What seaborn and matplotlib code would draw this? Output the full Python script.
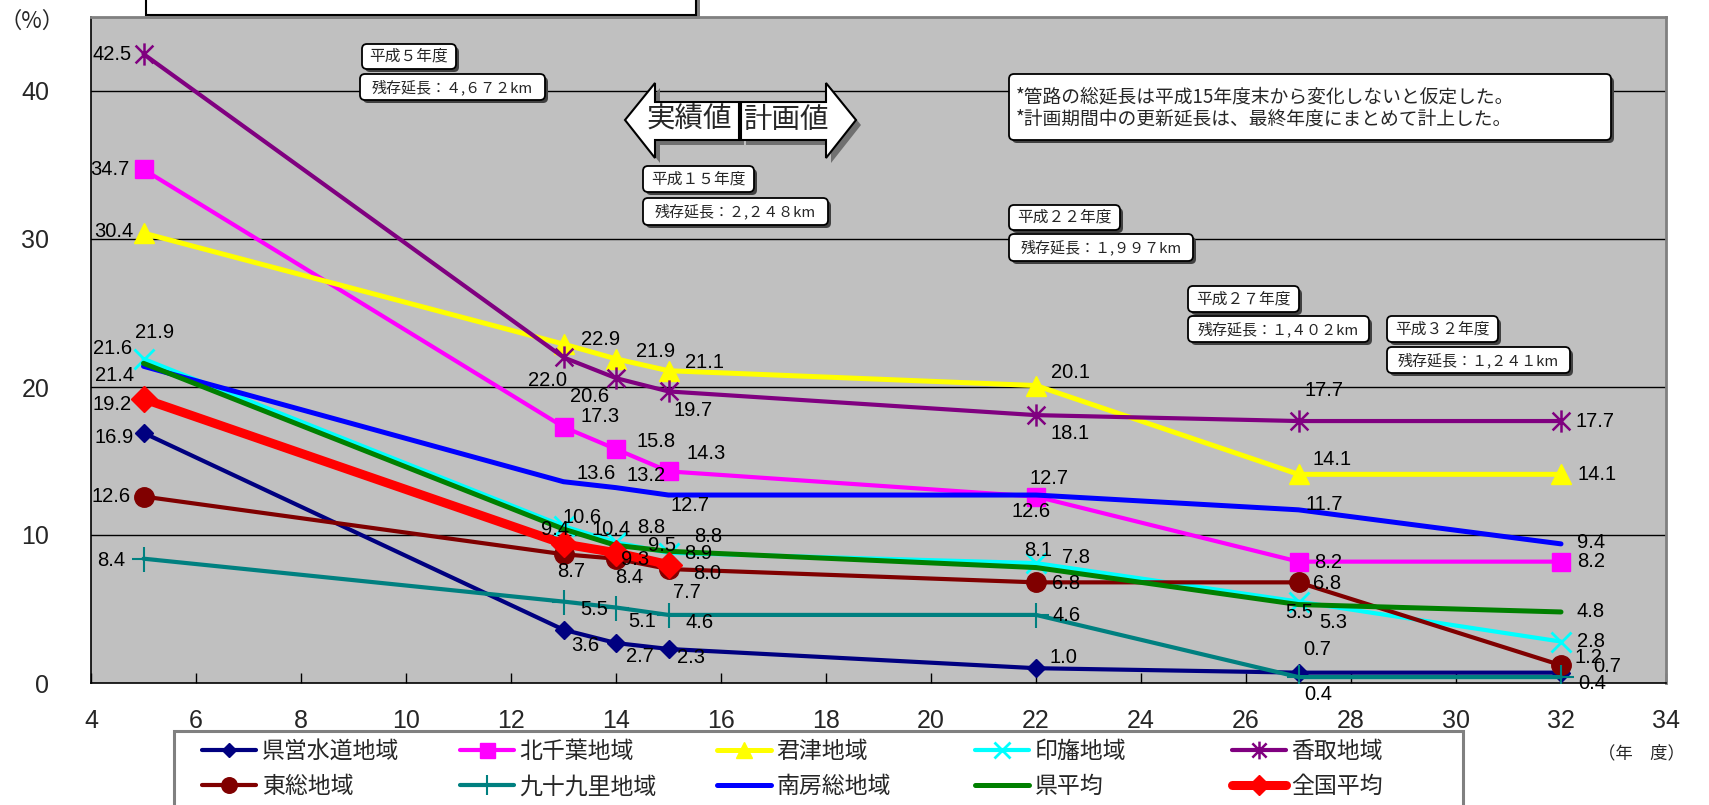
import matplotlib
matplotlib.use("Agg")
import matplotlib.pyplot as plt
import seaborn as sns
import pandas as pd
from matplotlib.patches import FancyBboxPatch, Rectangle, Polygon
from matplotlib.path import Path
from matplotlib.lines import Line2D
from matplotlib.transforms import Affine2D
from matplotlib import font_manager

# ---- data -------------------------------------------------------------
years = [5, 13, 14, 15, 22, 27, 32]
years_national = [5, 13, 14, 15]

kenei = [16.9, 3.6, 2.7, 2.3, 1.0, 0.7, 0.7]
kitachiba = [34.7, 17.3, 15.8, 14.3, 12.6, 8.2, 8.2]
kimitsu = [30.4, 22.9, 21.9, 21.1, 20.1, 14.1, 14.1]
inba = [21.9, 10.6, 9.5, 8.8, 8.1, 5.5, 2.8]
katori = [42.5, 22.0, 20.6, 19.7, 18.1, 17.7, 17.7]
toso = [12.6, 8.7, 8.4, 7.7, 6.8, 6.8, 1.2]
kujukuri = [8.4, 5.5, 5.1, 4.6, 4.6, 0.4, 0.4]
minamiboso = [21.4, 13.6, 13.2, 12.7, 12.7, 11.7, 9.4]
ken_avg = [21.6, 10.4, 9.3, 8.9, 7.8, 5.3, 4.8]
national_avg = [19.2, 9.4, 8.8, 8.0]

series_names = ["県営水道地域", "北千葉地域", "君津地域", "印旛地域", "香取地域",
                "東総地域", "九十九里地域", "南房総地域", "県平均", "全国平均"]

x_ticks = list(range(4, 35, 2))
y_ticks = [0, 10, 20, 30, 40]

survey_years = ["平成５年度", "平成１５年度", "平成２２年度", "平成２７年度", "平成３２年度"]
remaining_km = ["残存延長：４,６７２km", "残存延長：２,２４８km", "残存延長：１,９９７km",
                "残存延長：１,４０２km", "残存延長：１,２４１km"]
notes = ["*管路の総延長は平成15年度末から変化しないと仮定した。",
         "*計画期間中の更新延長は、最終年度にまとめて計上した。"]
arrow_words = ["実績値", "計画値"]
y_unit = "（%）"
x_unit = "（年　度）"

# ---- fonts --------------------------------------------------------------
sns.set_theme(style="white")
available = {f.name for f in font_manager.fontManager.ttflist}
num_font = "Liberation Sans" if "Liberation Sans" in available else "DejaVu Sans"
jp_font = ["Noto Sans CJK JP", "DejaVu Sans"]
plt.rcParams["font.family"] = jp_font

# ---- styles -------------------------------------------------------------
asterisk = Path([(0, -1), (0, 1), (-0.8, -0.8), (0.8, 0.8), (-0.8, 0.8), (0.8, -0.8)],
                [Path.MOVETO, Path.LINETO, Path.MOVETO, Path.LINETO, Path.MOVETO, Path.LINETO])

styles = [
    dict(color="#000080", marker="D", ms=8.8, lw=3.0, mew=1),
    dict(color="#FF00FF", marker="s", ms=13.5, lw=3.0, mew=1),
    dict(color="#FFFF00", marker="^", ms=14, lw=3.6, mew=1),
    dict(color="#00FFFF", marker="x", ms=14, lw=3.0, mew=2),
    dict(color="#800080", marker=asterisk, ms=16, lw=3.0, mew=1.8),
    dict(color="#800000", marker="o", ms=14, lw=3.0, mew=1),
    dict(color="#008080", marker="+", ms=18, lw=3.0, mew=1.5),
    dict(color="#0000FF", marker=None, ms=0, lw=3.6, mew=0),
    dict(color="#008000", marker=None, ms=0, lw=3.6, mew=0),
    dict(color="#FF0000", marker="D", ms=13, lw=6.5, mew=1),
]

series_values = [kenei, kitachiba, kimitsu, inba, katori, toso, kujukuri,
                 minamiboso, ken_avg, national_avg]
series_years = [years] * 9 + [years_national]

# label offsets from each point, in pixels (right, down)
label_offsets = [
    [(-29, 5), (22, 16), (24, 13), (23, 9), (27, -11), (19, -23), (46, -6)],
    [(-34, 0), (37, -10), (40, -8), (38, -18), (-5, 15), (30, 1), (30, 0)],
    [(-30, -2), (37, -5), (40, -7), (36, -8), (35, -13), (34, -15), (36, 0)],
    [(11, -26), (19, -9), (46, 3), (40, -16), (2, -13), (1, 11), (30, 0)],
    [(-31, 1), (-16, 23), (-26, 18), (25, 19), (34, 18), (25, -31), (34, 0)],
    [(-32, 0), (8, 17), (13, 19), (18, 23), (30, 1), (29, 1), (27, -8)],
    [(-32, 2), (31, 8), (26, 14), (31, 8), (31, 1), (20, 17), (31, 6)],
    [(-29, 9), (33, -8), (30, -12), (22, 10), (13, -17), (26, -5), (30, -1)],
    [(-31, -15), (48, 0), (19, 14), (30, 2), (40, -10), (35, 18), (30, 0)],
    [(-31, 6), (-8, -14), (35, -25), (39, 9)],
]

# ---- figure -------------------------------------------------------------
W, H = 1709, 805
fig = plt.figure(figsize=(W / 100, H / 100), dpi=100)
fig.patch.set_facecolor("white")
px = Affine2D().scale(1, -1).translate(0, H)  # pixel coords, y downward

L, R, T, B = 91, 1666, 17, 683
ax = fig.add_axes([L / W, 1 - B / H, (R - L) / W, (B - T) / H])
ax.set_facecolor("#C0C0C0")

for i, (name, yrs, vals, st) in enumerate(zip(series_names, series_years, series_values, styles)):
    df = pd.DataFrame({"年度": yrs, "率": vals})
    kw = dict(color=st["color"], lw=st["lw"], zorder=3 + i)
    if st["marker"] is not None:
        kw.update(marker=st["marker"], markersize=st["ms"], markeredgewidth=st["mew"],
                  markeredgecolor=st["color"], markerfacecolor=st["color"])
    sns.lineplot(data=df, x="年度", y="率", ax=ax, legend=False, **kw)
    for x, v, (dx, dy) in zip(yrs, vals, label_offsets[i]):
        ax.annotate(f"{v:.1f}", (x, v), xytext=(dx * 0.72, -dy * 0.72),
                    textcoords="offset points", ha="center", va="center",
                    fontsize=14.5, family=num_font, color="black", zorder=20)

ax.set_xlim(4, 34)
ax.set_ylim(0, 45)
ax.set_xticks(x_ticks)
ax.set_yticks(y_ticks)
ax.set_xlabel("")
ax.set_ylabel("")
ax.grid(False)
for yv in y_ticks[1:]:
    ax.axhline(yv, color="black", lw=1.0, zorder=1)
ax.tick_params(axis="x", direction="in", length=7, width=1, color="black", pad=19,
               labelsize=18, bottom=True)
ax.tick_params(axis="y", length=0, pad=30, labelsize=18, left=True)
for lab in ax.get_xticklabels() + ax.get_yticklabels():
    lab.set_family(num_font)
for side in ["left", "bottom"]:
    ax.spines[side].set_color("black")
    ax.spines[side].set_linewidth(1.2)
for side in ["top", "right"]:
    ax.spines[side].set_color("#808080")
    ax.spines[side].set_linewidth(2)

# ---- axis unit labels ----------------------------------------------------
fig.text(32, 21, y_unit, transform=px, ha="center", va="center", fontsize=16, family=jp_font)
fig.text(1641, 753, x_unit, transform=px, ha="center", va="center", fontsize=12.5, family=jp_font)

# ---- white title box cut at the top edge ----------------------------------
fig.add_artist(Rectangle((150, -20), 550, 39, transform=px, facecolor="#808080", edgecolor="none"))
fig.add_artist(Rectangle((146, -20), 550, 35, transform=px, facecolor="white",
                         edgecolor="black", lw=1.5))


def callout(x0, y0, x1, y1, text=None, size=11):
    fig.add_artist(FancyBboxPatch((x0 + 3, y0 + 3), x1 - x0, y1 - y0, transform=px,
                                  boxstyle="round,pad=0,rounding_size=5",
                                  facecolor="#404040", edgecolor="none"))
    fig.add_artist(FancyBboxPatch((x0, y0), x1 - x0, y1 - y0, transform=px,
                                  boxstyle="round,pad=0,rounding_size=5",
                                  facecolor="white", edgecolor="black", lw=1.3))
    if text is not None:
        fig.text((x0 + x1) / 2, (y0 + y1) / 2, text, transform=px, ha="center",
                 va="center", fontsize=size, family=jp_font)


# survey-year callouts: (year box, remaining-length box)
callout_boxes = [
    ((362, 44, 456, 69), (360, 74, 545, 100)),
    ((643, 166, 754, 192), (643, 198, 828, 225)),
    ((1009, 205, 1120, 230), (1009, 234, 1193, 261)),
    ((1188, 286, 1299, 312), (1188, 316, 1369, 342)),
    ((1387, 316, 1498, 342), (1387, 347, 1570, 373)),
]
for (yb, rb), ylab, rlab in zip(callout_boxes, survey_years, remaining_km):
    callout(*yb, ylab, 11.3)
    callout(*rb, rlab, 10.8)

# notes box
callout(1009, 74, 1611, 140)
for k, line in enumerate(notes):
    fig.text(1016, 97 + 22 * k, line, transform=px, ha="left", va="center",
             fontsize=13.5, family=jp_font)

# ---- double arrow: actual / planned -------------------------------------
left_arrow = [(625, 120), (655, 83), (655, 102), (739, 102), (739, 140), (655, 140), (655, 158)]
right_arrow = [(741, 102), (826, 102), (826, 83), (856, 120), (826, 158), (826, 140), (741, 140)]
for poly in (left_arrow, right_arrow):
    fig.add_artist(Polygon([(x + 5, y + 5) for x, y in poly], closed=True, transform=px,
                           facecolor="#707070", edgecolor="none"))
for poly in (left_arrow, right_arrow):
    fig.add_artist(Polygon(poly, closed=True, transform=px, facecolor="white",
                           edgecolor="black", lw=1.5))
fig.text(689, 120, arrow_words[0], transform=px, ha="center", va="center", fontsize=20.5, family=jp_font)
fig.text(787, 120, arrow_words[1], transform=px, ha="center", va="center", fontsize=20.5, family=jp_font)

# ---- legend ---------------------------------------------------------------
fig.add_artist(Rectangle((174, 731), 1289, 120, transform=px, facecolor="white",
                         edgecolor="#808080", lw=2.2))
handles = []
for st in styles:
    kw = dict(color=st["color"], lw=st["lw"])
    if st["marker"] is not None:
        kw.update(marker=st["marker"], markersize=st["ms"] * 0.8, markeredgewidth=st["mew"],
                  markeredgecolor=st["color"], markerfacecolor=st["color"])
    handles.append(Line2D([], [], **kw))

col_x = [202, 460, 717, 975, 1232]
for c, x0 in enumerate(col_x):
    idx = [c, c + 5]
    fig.legend([handles[j] for j in idx], [series_names[j] for j in idx],
               loc="center left", bbox_to_anchor=(x0 / W, 1 - 769 / H),
               frameon=False, handlelength=2.35, handletextpad=0.25,
               borderpad=0, borderaxespad=0, labelspacing=0.55,
               prop={"family": jp_font, "size": 16.5})

fig.savefig("out.png", dpi=100, facecolor="white")
